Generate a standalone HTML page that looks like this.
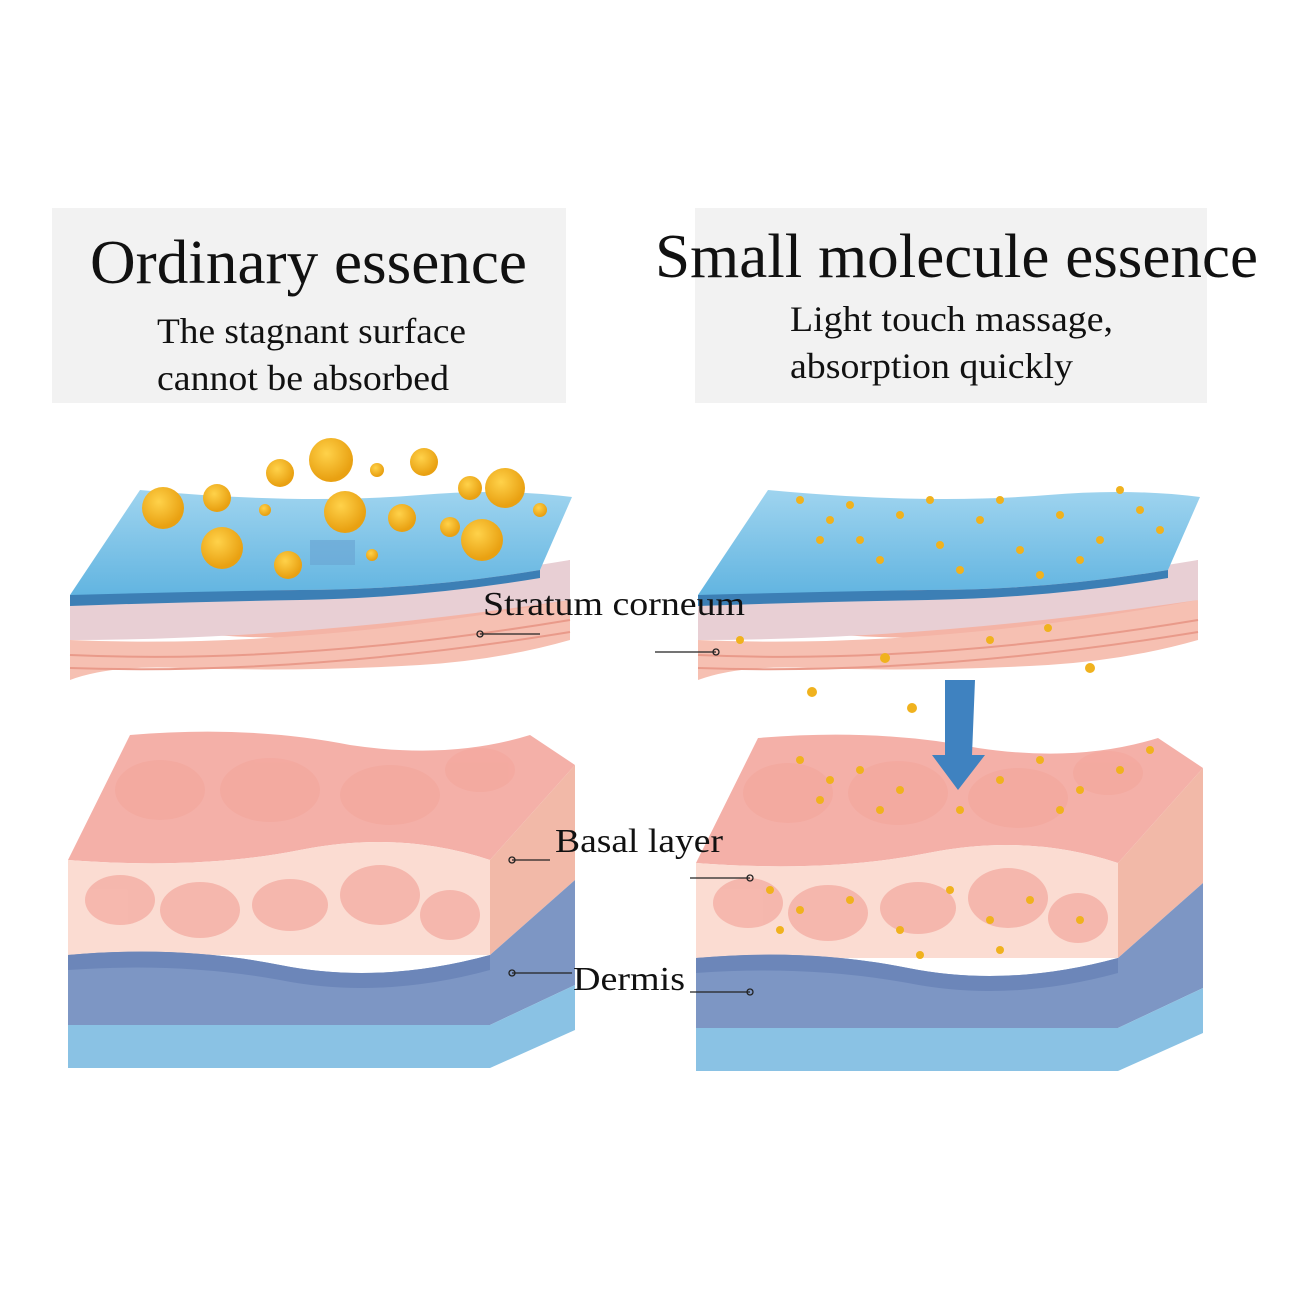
<!DOCTYPE html>
<html><head><meta charset="utf-8"><style>
body{margin:0;background:#fff;}
svg{display:block}
text{font-family:"Liberation Serif",serif;fill:#111}
</style></head><body>
<svg width="1300" height="1300" viewBox="0 0 1300 1300" xmlns="http://www.w3.org/2000/svg">
<defs>
<linearGradient id="bl" x1="0" y1="0" x2="0" y2="1"><stop offset="0" stop-color="#9fd4ef"/><stop offset="1" stop-color="#5fb3e0"/></linearGradient>
<radialGradient id="dr" cx="0.4" cy="0.35" r="0.6"><stop offset="0" stop-color="#ffd24a"/><stop offset="1" stop-color="#e9a112"/></radialGradient>
<g id="top">
  <path d="M70,640 Q110,625 180,632 Q300,645 420,628 Q500,620 570,600 L570,560 Q520,575 420,582 Q300,590 180,580 Q110,575 70,595 Z" fill="#f4b4a6"/>
  <path d="M70,640 Q300,650 570,600 L570,640 Q500,660 420,665 Q300,672 180,668 Q110,665 70,680 Z" fill="#f6c0b2"/>
  <path d="M70,655 Q300,665 570,620 M70,668 Q300,676 570,632" stroke="#e99a8a" stroke-width="2" fill="none"/>
  <path d="M70,600 Q300,605 570,560 L570,600 Q300,640 70,640 Z" fill="#e8cfd4"/>
  <path d="M70,595 L140,490 Q300,505 420,495 Q500,488 572,497 L540,570 Q420,590 300,590 Q180,592 70,600 Z" fill="url(#bl)"/>
  <path d="M70,595 Q180,592 300,590 Q420,590 540,570 L540,578 Q420,598 300,600 Q180,602 70,606 Z" fill="#3c7fb5"/>
</g>
<g id="block">
  <path d="M68,860 L130,735 Q250,725 350,745 Q450,760 530,735 L575,765 L490,860 Q400,830 300,850 Q200,870 68,860 Z" fill="#f4b0a8"/>
  <path d="M68,860 Q200,870 300,850 Q400,830 490,860 L490,955 L68,955 Z" fill="#fbdcd2"/>
  <path d="M68,955 Q180,945 280,965 Q380,985 490,955 L490,1025 L68,1025 Z" fill="#7d96c4"/>
  <path d="M68,955 Q180,945 280,965 Q380,985 490,955 L490,970 Q380,1000 280,980 Q180,962 68,970 Z" fill="#6c86b9"/>
  <path d="M68,1025 L490,1025 L490,1068 L68,1068 Z" fill="#8ac2e4"/>
  <path d="M490,860 L575,765 L575,880 L490,955 Z" fill="#f2b9a8"/>
  <path d="M490,955 L575,880 L575,985 L490,1025 Z" fill="#7d96c4"/>
  <path d="M490,1025 L575,985 L575,1030 L490,1068 Z" fill="#8ac2e4"/>
  <g fill="#f3a89e" opacity="0.7">
    <ellipse cx="120" cy="900" rx="35" ry="25"/><ellipse cx="200" cy="910" rx="40" ry="28"/><ellipse cx="290" cy="905" rx="38" ry="26"/><ellipse cx="380" cy="895" rx="40" ry="30"/><ellipse cx="450" cy="915" rx="30" ry="25"/>
    <ellipse cx="160" cy="790" rx="45" ry="30"/><ellipse cx="270" cy="790" rx="50" ry="32"/><ellipse cx="390" cy="795" rx="50" ry="30"/><ellipse cx="480" cy="770" rx="35" ry="22"/>
  </g>
</g>
</defs>
<rect x="52" y="208" width="514" height="195" fill="#f2f2f2"/>
<rect x="695" y="208" width="512" height="195" fill="#f2f2f2"/>
<text x="90" y="283" font-size="62" textLength="437" lengthAdjust="spacingAndGlyphs">Ordinary essence</text>
<text x="157" y="343" font-size="36" textLength="309" lengthAdjust="spacingAndGlyphs">The stagnant surface</text>
<text x="157" y="390" font-size="36" textLength="292" lengthAdjust="spacingAndGlyphs">cannot be absorbed</text>
<text x="655" y="277" font-size="62" textLength="603" lengthAdjust="spacingAndGlyphs">Small molecule essence</text>
<text x="790" y="331" font-size="36" textLength="323" lengthAdjust="spacingAndGlyphs">Light touch massage,</text>
<text x="790" y="378" font-size="36" textLength="283" lengthAdjust="spacingAndGlyphs">absorption quickly</text>

<use href="#top"/>
<use href="#top" transform="translate(628,0)"/>
<use href="#block"/>
<use href="#block" transform="translate(628,3)"/>

<g fill="url(#dr)">
<circle cx="163" cy="508" r="21"/><circle cx="217" cy="498" r="14"/><circle cx="222" cy="548" r="21"/><circle cx="280" cy="473" r="14"/><circle cx="331" cy="460" r="22"/><circle cx="345" cy="512" r="21"/><circle cx="402" cy="518" r="14"/><circle cx="424" cy="462" r="14"/><circle cx="470" cy="488" r="12"/><circle cx="505" cy="488" r="20"/><circle cx="482" cy="540" r="21"/><circle cx="288" cy="565" r="14"/><circle cx="450" cy="527" r="10"/><circle cx="377" cy="470" r="7"/><circle cx="265" cy="510" r="6"/><circle cx="372" cy="555" r="6"/><circle cx="540" cy="510" r="7"/>
</g>
<rect x="310" y="540" width="45" height="25" fill="#6ba7d4" opacity="0.7"/>

<g fill="#f0b21e">
<circle cx="800" cy="500" r="4"/><circle cx="830" cy="520" r="4"/><circle cx="860" cy="540" r="4"/><circle cx="900" cy="515" r="4"/><circle cx="940" cy="545" r="4"/><circle cx="980" cy="520" r="4"/><circle cx="1020" cy="550" r="4"/><circle cx="1060" cy="515" r="4"/><circle cx="1100" cy="540" r="4"/><circle cx="1140" cy="510" r="4"/><circle cx="1160" cy="530" r="4"/><circle cx="1120" cy="490" r="4"/><circle cx="880" cy="560" r="4"/><circle cx="960" cy="570" r="4"/><circle cx="1040" cy="575" r="4"/><circle cx="1080" cy="560" r="4"/><circle cx="820" cy="540" r="4"/><circle cx="1000" cy="500" r="4"/><circle cx="930" cy="500" r="4"/><circle cx="850" cy="505" r="4"/>
<circle cx="740" cy="640" r="4"/><circle cx="885" cy="658" r="5"/><circle cx="812" cy="692" r="5"/><circle cx="912" cy="708" r="5"/><circle cx="1048" cy="628" r="4"/><circle cx="1090" cy="668" r="5"/><circle cx="990" cy="640" r="4"/>
<circle cx="800" cy="760" r="4"/><circle cx="830" cy="780" r="4"/><circle cx="860" cy="770" r="4"/><circle cx="900" cy="790" r="4"/><circle cx="1000" cy="780" r="4"/><circle cx="1040" cy="760" r="4"/><circle cx="1080" cy="790" r="4"/><circle cx="1120" cy="770" r="4"/><circle cx="1150" cy="750" r="4"/><circle cx="1060" cy="810" r="4"/><circle cx="960" cy="810" r="4"/><circle cx="880" cy="810" r="4"/><circle cx="820" cy="800" r="4"/>
<circle cx="770" cy="890" r="4"/><circle cx="800" cy="910" r="4"/><circle cx="850" cy="900" r="4"/><circle cx="900" cy="930" r="4"/><circle cx="950" cy="890" r="4"/><circle cx="990" cy="920" r="4"/><circle cx="1030" cy="900" r="4"/><circle cx="1080" cy="920" r="4"/><circle cx="920" cy="955" r="4"/><circle cx="1000" cy="950" r="4"/><circle cx="780" cy="930" r="4"/>
</g>
<path d="M945,680 L975,680 L972,755 L985,755 L958,790 L932,755 L945,755 Z" fill="#3f82c0"/>

<g stroke="#222" stroke-width="1.3" fill="none">
<line x1="480" y1="634" x2="540" y2="634"/><circle cx="480" cy="634" r="3"/>
<line x1="655" y1="652" x2="716" y2="652"/><circle cx="716" cy="652" r="3"/>
<line x1="512" y1="860" x2="550" y2="860"/><circle cx="512" cy="860" r="3"/>
<line x1="690" y1="878" x2="750" y2="878"/><circle cx="750" cy="878" r="3"/>
<line x1="512" y1="973" x2="572" y2="973"/><circle cx="512" cy="973" r="3"/>
<line x1="690" y1="992" x2="750" y2="992"/><circle cx="750" cy="992" r="3"/>
</g>
<text x="483" y="615" font-size="34" textLength="262" lengthAdjust="spacingAndGlyphs">Stratum corneum</text>
<text x="555" y="852" font-size="34" textLength="168" lengthAdjust="spacingAndGlyphs">Basal layer</text>
<text x="573" y="990" font-size="34" textLength="112" lengthAdjust="spacingAndGlyphs">Dermis</text>
</svg>
</body></html>
